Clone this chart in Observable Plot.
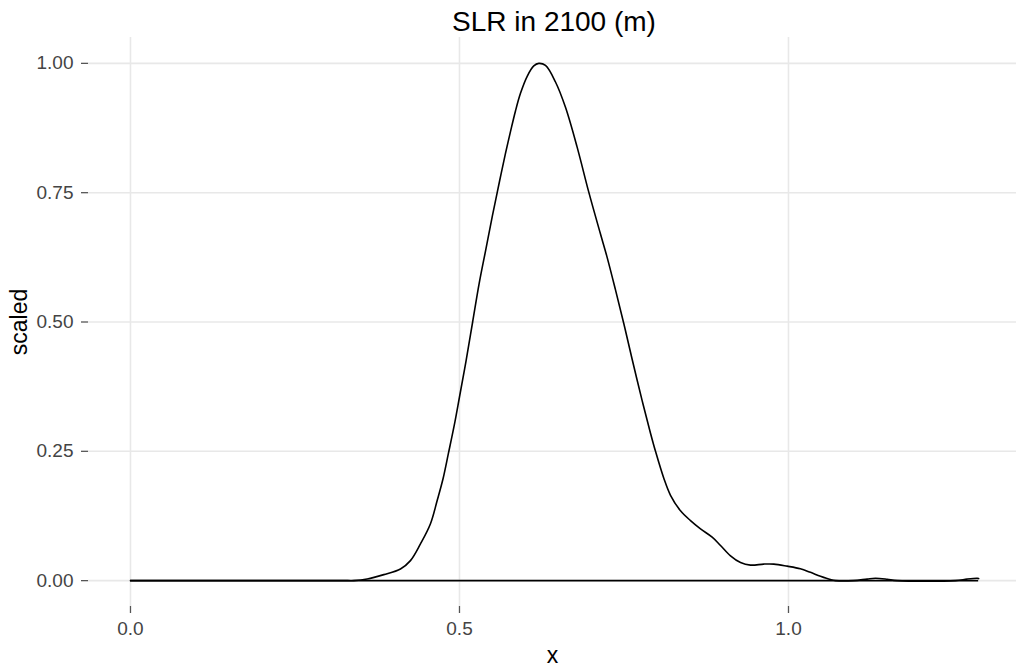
<!DOCTYPE html>
<html>
<head>
<meta charset="utf-8">
<script src="https://cdn.jsdelivr.net/npm/d3@7"></script>
<script src="https://cdn.jsdelivr.net/npm/@observablehq/plot@0.6"></script>
<style>
  body { margin: 0; background: #fff; font-family: "Liberation Sans", Arial, sans-serif; }
  #title { position: relative; height: 37px; }
  #title span { position: absolute; left: 554px; top: 8px; transform: translateX(-50%); font-size: 28px; line-height: 28px; white-space: nowrap; color: #000; }
  #chart svg { display: block; }
</style>
</head>
<body>
<div id="title"><span></span></div>
<div id="chart"></div>
<script>
const titleText = "SLR in 2100 (m)";
const xLabel = "x";
const yLabel = "scaled";
const xTicks = [0, 0.5, 1.0];
const yTicks = [0, 0.25, 0.5, 0.75, 1.0];

// density curve (x in m, scaled density)
const xs = [0, 0.330, 0.3394, 0.3597, 0.385, 0.4103, 0.4255, 0.4407, 0.4559, 0.4661, 0.475, 0.483, 0.492, 0.500, 0.510, 0.520, 0.530, 0.540, 0.550, 0.5573, 0.5633, 0.5699, 0.5775, 0.5851, 0.5927, 0.6029, 0.6129, 0.6205, 0.6307, 0.6459, 0.6611, 0.6788, 0.6965, 0.7143, 0.7244, 0.7371, 0.7497, 0.7624, 0.7776, 0.7903, 0.7979, 0.8105, 0.8207, 0.8359, 0.8511, 0.8663, 0.8840, 0.8967, 0.9119, 0.9271, 0.9422, 0.9625, 0.9777, 0.9980, 1.018, 1.0334, 1.0486, 1.0638, 1.0714, 1.099, 1.1196, 1.1322, 1.150, 1.165, 1.2538, 1.2715, 1.2867, 1.289];
const ys = [0, 0, 0, 0.003, 0.0116, 0.0226, 0.0387, 0.071, 0.110, 0.155, 0.197, 0.245, 0.300, 0.355, 0.425, 0.500, 0.575, 0.640, 0.705, 0.750, 0.787, 0.826, 0.868, 0.908, 0.942, 0.975, 0.995, 1.0, 0.996, 0.964, 0.915, 0.838, 0.751, 0.670, 0.625, 0.562, 0.497, 0.428, 0.348, 0.285, 0.250, 0.198, 0.165, 0.135, 0.116, 0.100, 0.084, 0.068, 0.048, 0.035, 0.030, 0.032, 0.032, 0.028, 0.023, 0.016, 0.0084, 0.002, 0, 0, 0.003, 0.0045, 0.0026, 0, 0, 0.003, 0.0045, 0.004];

const points = xs.map((x, i) => ({x, y: ys[i]}));
const xMax = xs[xs.length - 1];

document.querySelector("#title span").textContent = titleText;

const chart = Plot.plot({
  width: 1016,
  height: 634,
  marginTop: 0,
  marginBottom: 65,
  marginLeft: 88,
  marginRight: 0,
  x: {domain: [-0.0638, 1.3526], range: [88, 1020]},
  y: {domain: [-0.05, 1.05], range: [569, 0]},
  style: {fontFamily: "'Liberation Sans', Arial, sans-serif", background: "white", overflow: "visible"},
  marks: [
    Plot.ruleX(xTicks, {stroke: "#e8e8e8", strokeWidth: 1.6}),
    Plot.ruleY(yTicks, {stroke: "#e8e8e8", strokeWidth: 1.6}),
    Plot.axisX({ticks: xTicks, tickFormat: d3.format(".1f"), tickSize: 7, tickPadding: 8, stroke: "#555", fill: "#444", strokeWidth: 1.3, fontSize: 19, label: null}),
    Plot.axisY({ticks: yTicks, tickFormat: d3.format(".2f"), tickSize: 7, tickPadding: 8, stroke: "#555", fill: "#444", strokeWidth: 1.3, fontSize: 19, label: null}),
    Plot.ruleY([0], {x1: 0, x2: xMax, stroke: "black", strokeWidth: 1.6}),
    Plot.line(points, {x: "x", y: "y", stroke: "black", strokeWidth: 1.6, curve: "catmull-rom"}),
    Plot.text([yLabel], {text: d => d, frameAnchor: "left", textAnchor: "middle", dx: -68.4, rotate: -90, fontSize: 23, fill: "black"}),
    Plot.text([xLabel], {text: d => d, frameAnchor: "bottom", textAnchor: "middle", dy: 56, lineAnchor: "bottom", fontSize: 23, fill: "black"})
  ]
});
document.getElementById("chart").appendChild(chart);
</script>
</body>
</html>
